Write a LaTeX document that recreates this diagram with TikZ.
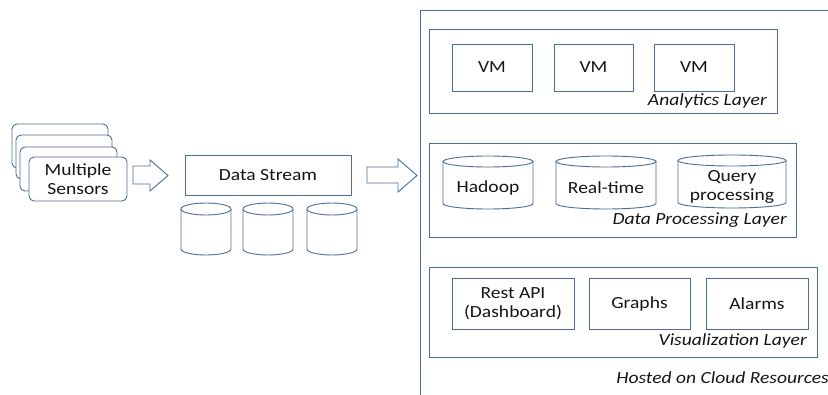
\documentclass[tikz,border=0pt]{standalone}
\usepackage{fontspec}
\setmainfont[FakeStretch=1.15]{Carlito}
\usetikzlibrary{calc}
\definecolor{edge}{HTML}{4A6E96}
\definecolor{ink}{HTML}{151515}

% storage drum: name, left x, right x, top y, bottom y, text
\newcommand\drum[6]{%
  \pgfmathsetmacro\drx{(#3-#2)/2}%
  \pgfmathsetmacro\dcx{(#2+#3)/2}%
  \draw[box] (#2,#4+\dry) -- (#2,#5-\dry)
    arc[start angle=180,end angle=0,x radius=\drx,y radius=\dry] -- (#3,#4+\dry);
  \draw[box] (\dcx,#4+\dry) ellipse[x radius=\drx, y radius=\dry];
  \node[lbl] (#1) at (\dcx,{(#4+2*\dry+#5)/2}) {#6};
}

\begin{document}
\begin{tikzpicture}[x=1pt,y=-1pt,
  box/.style={draw=edge, line width=0.9pt, fill=white},
  frame/.style={box, inner sep=0pt},
  card/.style={box, rounded corners=5pt},
  lbl/.style={font=\fontsize{17}{19}\selectfont, text=ink, align=center},
  layerlbl/.style={font=\itshape\fontsize{17}{19}\selectfont, text=ink, anchor=east, inner sep=0pt},
  flow/.style={draw=edge, line width=0.9pt, fill=white, line join=miter}]

\useasboundingbox (0,0) rectangle (828,394);
\clip (0,0) rectangle (828,394);

% sensor cards
\draw[card] (12,124) rectangle (108,168);
\draw[card] (16,135) rectangle (112,179);
\draw[card] (20,147) rectangle (117,191);
\node[card, lbl, inner sep=0pt, minimum width=98pt, minimum height=44pt] (sensors) at (78,179) {Multiple\\Sensors};

% ingestion
\node[frame, lbl, minimum width=166pt, minimum height=40pt] (stream) at (268,175) {Data Stream};
\def\dry{6}
\drum{s1}{181}{231}{203}{255}{}
\drum{s2}{243}{293}{203}{255}{}
\drum{s3}{307}{357}{203}{255}{}

% block arrows
\draw[flow] (133,166) -- (150,166) -- (150,160) -- (168,175.5) -- (150,191) -- (150,184) -- (133,184) -- cycle;
\draw[flow] (367,167) -- (398,167) -- (398,159) -- (417,175.5) -- (398,192) -- (398,183) -- (367,183) -- cycle;

% cloud frame
\draw[draw=edge, line width=0.9pt] (840,10) -- (420,10) -- (420,400);
\node[layerlbl] (cloud) at (829,378) {Hosted on Cloud Resources};

% analytics layer
\node[frame, minimum width=348pt, minimum height=84pt] (analytics) at (603,71) {};
\node[frame, lbl, minimum width=80pt, minimum height=47pt] (vm1) at (492,67.5) {VM};
\node[frame, lbl, minimum width=79pt, minimum height=47pt] (vm2) at (593.5,67.5) {VM};
\node[frame, lbl, minimum width=80pt, minimum height=47pt] (vm3) at (694,67.5) {VM};
\node[layerlbl] (analyticslbl) at (767,101) {Analytics Layer};

% data processing layer
\node[frame, minimum width=367pt, minimum height=94pt] (processing) at (612.5,190) {};
\def\dry{5.5}
\drum{hadoop}{443}{533}{156}{209}{Hadoop}
\drum{realtime}{556}{656}{156}{209}{Real-time}
\drum{query}{678}{786}{155}{208}{Query\\processing}
\node[layerlbl] (processinglbl) at (787,220) {Data Processing Layer};

% visualization layer
\node[frame, minimum width=388pt, minimum height=90pt] (visual) at (623,312) {};
\node[frame, lbl, minimum width=122pt, minimum height=51pt] (rest) at (513,303.5) {Rest API\\(Dashboard)};
\node[frame, lbl, minimum width=101pt, minimum height=51pt] (graphs) at (639.5,303.5) {Graphs};
\node[frame, lbl, minimum width=102pt, minimum height=51pt] (alarms) at (757,303.5) {Alarms};
\node[layerlbl] (visuallbl) at (807,341) {Visualization Layer};
\end{tikzpicture}
\end{document}
